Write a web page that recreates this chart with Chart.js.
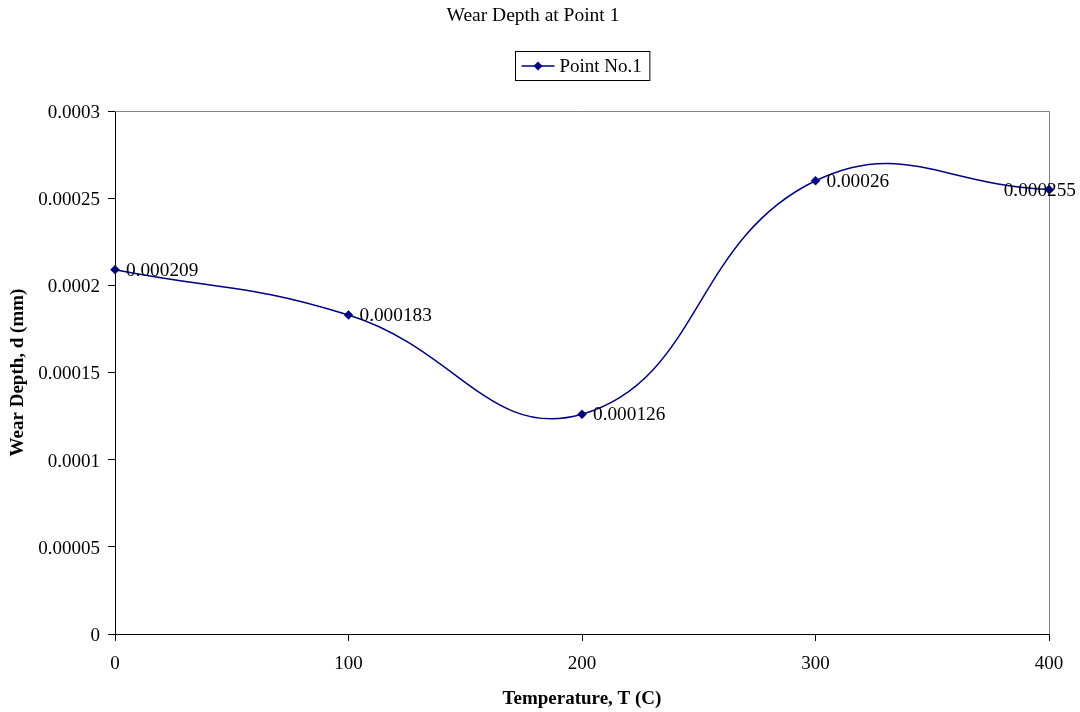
<!DOCTYPE html>
<html>
<head>
<meta charset="utf-8">
<script src="https://cdn.jsdelivr.net/npm/chart.js@4/dist/chart.umd.min.js"></script>
<style>
  html, body { margin: 0; padding: 0; background: #ffffff; }
  #wrap { width: 1080px; height: 712px; }
</style>
</head>
<body>
<div id="wrap"><canvas id="c" width="1080" height="712"></canvas></div>
<script>
// Wear depth measured at point 1 for each test temperature
const temperatures = [0, 100, 200, 300, 400];
const wearDepth = [0.000209, 0.000183, 0.000126, 0.00026, 0.000255];

// Axis ticks
const xTickValues = [0, 100, 200, 300, 400];
const yTickValues = [0, 0.00005, 0.0001, 0.00015, 0.0002, 0.00025, 0.0003];
const yTickLabels = ['0', '0.00005', '0.0001', '0.00015', '0.0002', '0.00025', '0.0003'];

// Texts
const chartTitle = 'Wear Depth at Point 1';
const seriesName = 'Point No.1';
const xTitle = 'Temperature, T (C)';
const yTitle = 'Wear Depth, d (mm)';

const FONT = "'Liberation Serif', 'Times New Roman', serif";
const NAVY = '#000080';

// Page title, centred on the page
const pageTitle = {
  id: 'pageTitle',
  afterDraw(chart) {
    const { ctx } = chart;
    ctx.save();
    ctx.font = '19.5px ' + FONT;
    ctx.fillStyle = '#000000';
    ctx.textAlign = 'center';
    ctx.textBaseline = 'alphabetic';
    ctx.fillText(chartTitle, 533, 21);
    ctx.restore();
  }
};

// Gray frame on the top and right sides of the plot area
const frameLines = {
  id: 'frameLines',
  beforeDatasetsDraw(chart) {
    const { ctx, chartArea: a } = chart;
    ctx.save();
    ctx.strokeStyle = '#808080';
    ctx.lineWidth = 1;
    ctx.beginPath();
    ctx.moveTo(a.left, a.top + 0.5);
    ctx.lineTo(a.right + 0.5, a.top + 0.5);
    ctx.lineTo(a.right + 0.5, a.bottom);
    ctx.stroke();
    ctx.restore();
  }
};

// Value label to the right of each point
const valueLabels = {
  id: 'valueLabels',
  afterDatasetsDraw(chart) {
    const { ctx } = chart;
    const meta = chart.getDatasetMeta(0);
    ctx.save();
    ctx.font = '19.3px ' + FONT;
    ctx.fillStyle = '#000000';
    ctx.textAlign = 'left';
    ctx.textBaseline = 'middle';
    meta.data.forEach((pt, i) => {
      const text = String(wearDepth[i]);
      const w = ctx.measureText(text).width;
      const x = Math.min(pt.x + 11, chart.width - 4 - w);
      ctx.fillText(text, x, pt.y + 1);
    });
    ctx.restore();
  }
};

// Boxed legend with line-and-marker sample, centred over the plot area
const boxedLegend = {
  id: 'boxedLegend',
  afterDraw(chart) {
    const { ctx, chartArea: a } = chart;
    const ds = chart.data.datasets[0];
    ctx.save();
    ctx.font = '19px ' + FONT;
    const tw = ctx.measureText(ds.label).width;
    const boxW = 6 + 33 + 5 + tw + 8;
    const boxH = 29;
    const left = Math.round((a.left + a.right) / 2 - boxW / 2) + 0.5;
    const top = 51.5;
    ctx.strokeStyle = '#000000';
    ctx.lineWidth = 1;
    ctx.strokeRect(left, top, boxW, boxH);
    const cy = top + boxH / 2;
    ctx.strokeStyle = ds.borderColor;
    ctx.lineWidth = ds.borderWidth;
    ctx.beginPath();
    ctx.moveTo(left + 6, cy);
    ctx.lineTo(left + 39, cy);
    ctx.stroke();
    const mx = left + 22.5, r = ds.pointRadius;
    ctx.fillStyle = ds.pointBackgroundColor;
    ctx.beginPath();
    ctx.moveTo(mx - r, cy);
    ctx.lineTo(mx, cy - r);
    ctx.lineTo(mx + r, cy);
    ctx.lineTo(mx, cy + r);
    ctx.closePath();
    ctx.fill();
    ctx.fillStyle = '#000000';
    ctx.textAlign = 'left';
    ctx.textBaseline = 'middle';
    ctx.fillText(ds.label, left + 44, cy + 1);
    ctx.restore();
  }
};

new Chart(document.getElementById('c'), {
  type: 'line',
  data: {
    datasets: [{
      label: seriesName,
      data: temperatures.map((t, i) => ({ x: t, y: wearDepth[i] })),
      borderColor: NAVY,
      backgroundColor: NAVY,
      borderWidth: 1.5,
      pointStyle: 'rectRot',
      pointRadius: 4.5,
      pointBorderWidth: 0.5,
      pointBackgroundColor: NAVY,
      pointBorderColor: NAVY,
      tension: 0.45,
      fill: false,
      clip: false
    }]
  },
  options: {
    responsive: false,
    animation: false,
    events: [],
    layout: { padding: { left: 0, right: 31, top: 111, bottom: 0 } },
    plugins: {
      legend: { display: false },
      tooltip: { enabled: false },
      title: { display: false }
    },
    scales: {
      x: {
        type: 'linear',
        min: 0,
        max: 400,
        afterFit(scale) { scale.height = 78; },
        afterBuildTicks(scale) { scale.ticks = xTickValues.map(v => ({ value: v })); },
        ticks: {
          color: '#000000',
          padding: 12,
          maxRotation: 0,
          font: { family: FONT, size: 19 },
          callback: (v) => String(v)
        },
        grid: { drawOnChartArea: false, drawTicks: true, tickLength: 7, color: '#000000', lineWidth: 1 },
        border: { display: true, color: '#000000', width: 1 },
        title: {
          display: true,
          text: xTitle,
          color: '#000000',
          font: { family: FONT, size: 19, weight: 'bold', lineHeight: 1.2 },
          padding: { top: 4, bottom: 2 }
        }
      },
      y: {
        type: 'linear',
        min: 0,
        max: 0.0003,
        afterFit(scale) { scale.width = 115; },
        afterBuildTicks(scale) { scale.ticks = yTickValues.map(v => ({ value: v })); },
        ticks: {
          color: '#000000',
          padding: 8,
          labelOffset: 2,
          font: { family: FONT, size: 19 },
          callback: (v) => {
            const i = yTickValues.findIndex(t => Math.abs(t - v) < 1e-9);
            return i >= 0 ? yTickLabels[i] : '';
          }
        },
        grid: { drawOnChartArea: false, drawTicks: true, tickLength: 7, color: '#000000', lineWidth: 1 },
        border: { display: true, color: '#000000', width: 1 },
        title: {
          display: true,
          text: yTitle,
          color: '#000000',
          font: { family: FONT, size: 19, weight: 'bold', lineHeight: 1.2 },
          padding: { top: 7, bottom: 4 }
        }
      }
    }
  },
  plugins: [pageTitle, frameLines, valueLabels, boxedLegend]
});
</script>
</body>
</html>
